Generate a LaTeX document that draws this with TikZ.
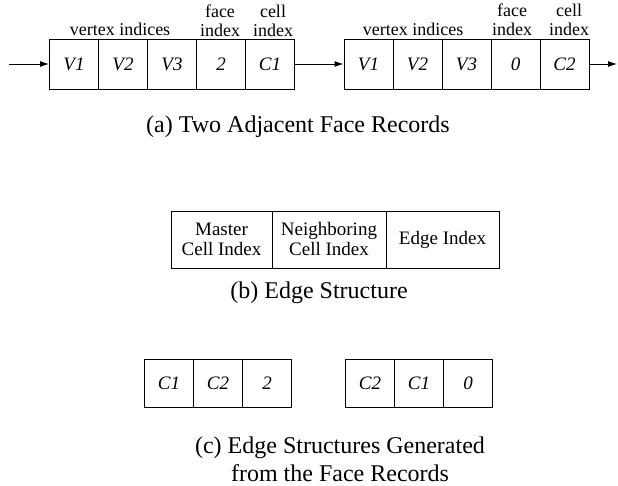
\documentclass[tikz,border=0pt]{standalone}
\usepackage{fontspec}
\setmainfont{Liberation Serif}
\usetikzlibrary{arrows.meta}
\begin{document}
\begin{tikzpicture}[x=1pt, y=-1pt]
        \tikzstyle{rec_cell}  = [shape = rectangle, draw = black, line width=0.9pt, minimum width=49pt, minimum height=50pt, inner sep=0pt, font=\fontsize{19}{19}\selectfont\itshape]
        \tikzstyle{edge_cell} = [shape = rectangle, draw = black, line width=0.9pt, minimum height=48pt, minimum width=49pt, inner sep=0pt, font=\fontsize{19}{19}\selectfont\itshape]
        \tikzstyle{head_cell} = [shape = rectangle, draw = black, line width=0.9pt, minimum height=57pt, inner sep=0pt, align=center, font=\fontsize{19}{20}\selectfont]
        \tikzstyle{field_lbl} = [align=center, inner sep=0pt, font=\fontsize{18}{19}\selectfont]
        \tikzstyle{caption}   = [align=center, inner sep=0pt, font=\fontsize{24}{28}\selectfont]
        \tikzstyle{link}      = [-{Latex[length=9pt,width=6pt]}, line width=0.9pt]

        \useasboundingbox (0,0) rectangle (618,486);

        % (a) first face record
        \node[rec_cell] at ( 74.0, 64) (f1_v1) {V1};
        \node[rec_cell] at (123.0, 64) (f1_v2) {V2};
        \node[rec_cell] at (172.0, 64) (f1_v3) {V3};
        \node[rec_cell] at (221.0, 64) (f1_fi) {2};
        \node[rec_cell] at (270.0, 64) (f1_ci) {C1};

        \node[field_lbl] at (120, 29) (f1_vl) {vertex indices};
        \node[field_lbl] at (220, 21) (f1_fl) {face\\index};
        \node[field_lbl] at (273, 21) (f1_cl) {cell\\index};

        % (a) second face record
        \node[rec_cell] at (368.5, 64) (f2_v1) {V1};
        \node[rec_cell] at (417.5, 64) (f2_v2) {V2};
        \node[rec_cell] at (466.5, 64) (f2_v3) {V3};
        \node[rec_cell] at (515.5, 64) (f2_fi) {0};
        \node[rec_cell] at (564.5, 64) (f2_ci) {C2};

        \node[field_lbl] at (413, 29) (f2_vl) {vertex indices};
        \node[field_lbl] at (512, 20) (f2_fl) {face\\index};
        \node[field_lbl] at (569, 20) (f2_cl) {cell\\index};

        \coordinate (list_in)  at (  9, 64);
        \coordinate (list_out) at (617, 64);

        \draw[link] (list_in) -- (f1_v1);
        \draw[link] (f1_ci) -- (f2_v1);
        \draw[link] (f2_ci) -- (list_out);

        \node[caption] at (298, 127) (cap_a) {(a) Two Adjacent Face Records};

        % (b) edge structure
        \node[head_cell, minimum width=101pt] at (221.5, 239.5) (e_master) {Master\\Cell Index};
        \node[head_cell, minimum width=114pt] at (329.0, 239.5) (e_neigh)  {Neighboring\\Cell Index};
        \node[head_cell, minimum width=113pt] at (442.5, 239.5) (e_index)  {Edge Index};

        \node[caption] at (319, 293) (cap_b) {(b) Edge Structure};

        % (c) generated edge structures
        \node[edge_cell] at (169, 383) (g1_m) {C1};
        \node[edge_cell] at (218, 383) (g1_n) {C2};
        \node[edge_cell] at (267, 383) (g1_e) {2};

        \node[edge_cell] at (370, 383) (g2_m) {C2};
        \node[edge_cell] at (419, 383) (g2_n) {C1};
        \node[edge_cell] at (468, 383) (g2_e) {0};

        \node[caption] at (340, 459) (cap_c) {(c) Edge Structures Generated\\from the Face Records};
      \end{tikzpicture}
\end{document}
